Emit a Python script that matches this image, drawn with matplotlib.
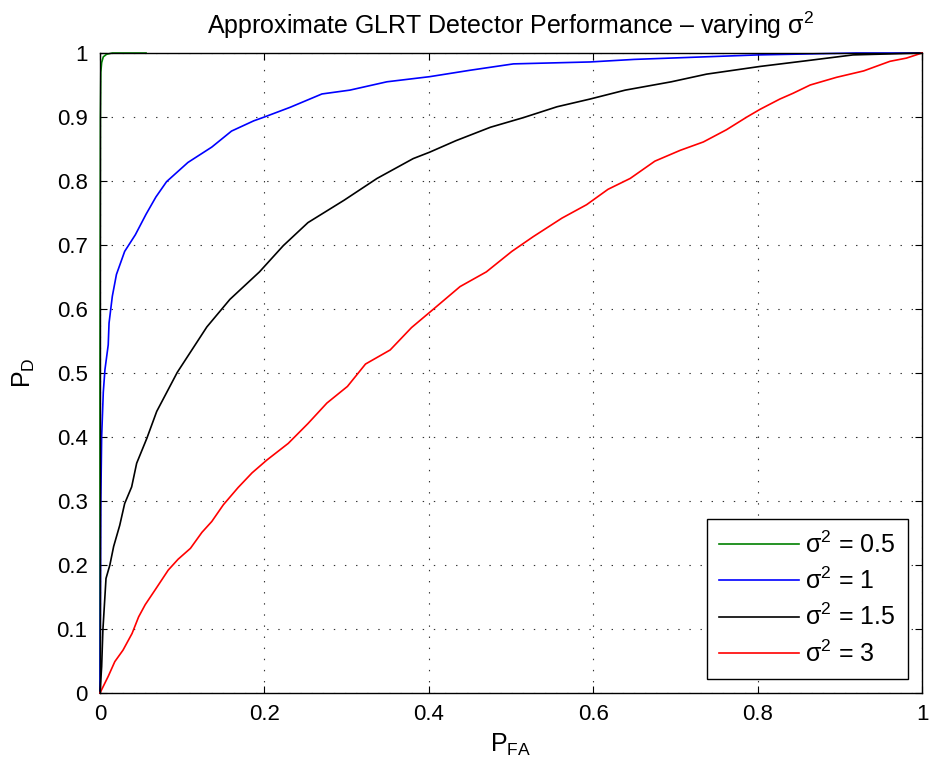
import matplotlib
matplotlib.use('Agg')
import matplotlib.pyplot as plt

plt.rcParams['font.family'] = ['Liberation Sans', 'DejaVu Sans']
plt.rcParams['mathtext.fontset'] = 'custom'
plt.rcParams['mathtext.rm'] = 'Liberation Sans'
plt.rcParams['mathtext.it'] = 'Liberation Sans'
plt.rcParams['mathtext.default'] = 'rm'
plt.rcParams['lines.scale_dashes'] = False

# ROC points (PFA, PD)
green_pfa = [0, 0.0, 0.0005, 0.001, 0.002, 0.004, 0.008, 0.015, 0.056]
green_pd = [0, 0.5, 0.9, 0.97, 0.985, 0.994, 0.998, 1.0, 1.0]

blue_pfa = [0, 0.0005, 0.001, 0.002, 0.004, 0.006, 0.010, 0.011, 0.015, 0.020,
            0.030, 0.043, 0.056, 0.068, 0.081, 0.107, 0.136, 0.160, 0.187, 0.200,
            0.231, 0.270, 0.304, 0.349, 0.401, 0.450, 0.503, 0.596, 0.65, 0.80,
            0.92, 1.0]
blue_pd = [0, 0.15, 0.30, 0.40, 0.47, 0.505, 0.544, 0.578, 0.62, 0.654,
           0.690, 0.716, 0.748, 0.775, 0.799, 0.829, 0.853, 0.878, 0.894, 0.900,
           0.915, 0.936, 0.942, 0.955, 0.963, 0.973, 0.983, 0.986, 0.99, 0.997,
           1.0, 1.0]

black_pfa = [0, 0.002, 0.0035, 0.0073, 0.012, 0.0166, 0.024, 0.030, 0.0385, 0.0446,
             0.057, 0.069, 0.094, 0.130, 0.158, 0.194, 0.223, 0.253, 0.297, 0.337,
             0.381, 0.401, 0.433, 0.475, 0.515, 0.556, 0.596, 0.639, 0.695, 0.738,
             0.803, 0.860, 0.916, 1.0]
black_pd = [0, 0.041, 0.098, 0.179, 0.20, 0.229, 0.262, 0.296, 0.322, 0.359,
            0.398, 0.440, 0.501, 0.572, 0.615, 0.658, 0.699, 0.735, 0.770, 0.804,
            0.835, 0.845, 0.863, 0.884, 0.899, 0.916, 0.928, 0.942, 0.955, 0.967,
            0.979, 0.988, 0.997, 1.0]

red_pfa = [0, 0.010, 0.018, 0.028, 0.039, 0.047, 0.055, 0.067, 0.083, 0.095,
           0.110, 0.124, 0.136, 0.150, 0.168, 0.185, 0.203, 0.229, 0.253, 0.276,
           0.301, 0.323, 0.353, 0.379, 0.404, 0.438, 0.470, 0.501, 0.527, 0.562,
           0.592, 0.618, 0.645, 0.675, 0.706, 0.734, 0.762, 0.787, 0.803, 0.827,
           0.843, 0.864, 0.896, 0.929, 0.961, 0.981, 1.0]
red_pd = [0, 0.026, 0.049, 0.067, 0.093, 0.119, 0.138, 0.161, 0.192, 0.209,
          0.226, 0.251, 0.268, 0.294, 0.321, 0.344, 0.364, 0.390, 0.421, 0.453,
          0.479, 0.514, 0.536, 0.571, 0.598, 0.635, 0.658, 0.690, 0.713, 0.742,
          0.763, 0.787, 0.804, 0.831, 0.848, 0.861, 0.880, 0.900, 0.912, 0.928,
          0.937, 0.950, 0.962, 0.972, 0.987, 0.992, 1.0]

labels = ['σ$^2$ = 0.5', 'σ$^2$ = 1', 'σ$^2$ = 1.5', 'σ$^2$ = 3']
colors = ['#008000', '#0000ff', '#000000', '#ff0000']

xticks = [0, 0.2, 0.4, 0.6, 0.8, 1]
xticklabels = ['0', '0.2', '0.4', '0.6', '0.8', '1']
yticks = [0, 0.1, 0.2, 0.3, 0.4, 0.5, 0.6, 0.7, 0.8, 0.9, 1]
yticklabels = ['0', '0.1', '0.2', '0.3', '0.4', '0.5', '0.6', '0.7', '0.8', '0.9', '1']

fig = plt.figure(figsize=(9.3, 7.76), dpi=100)
ax = fig.add_axes([100 / 930, 83 / 776, 822 / 930, 640 / 776])

curves = [(green_pfa, green_pd), (blue_pfa, blue_pd), (black_pfa, black_pd), (red_pfa, red_pd)]
for (x, y), c, lab in zip(curves, colors, labels):
    ax.plot(x, y, color=c, lw=1.2, label=lab, clip_on=False)

ax.set_xlim(0, 1)
ax.set_ylim(0, 1)
ax.set_xticks(xticks)
ax.set_xticklabels(xticklabels)
ax.set_yticks(yticks)
ax.set_yticklabels(yticklabels)
ax.tick_params(direction='in', length=5, width=0.8, top=True, right=True,
               labelsize=16, colors='black')
ax.tick_params(axis='y', pad=9)
ax.tick_params(axis='x', pad=8)
ax.grid(True, linestyle=(0, (1, 7)), color='0.2', linewidth=0.8)
for s in ax.spines.values():
    s.set_linewidth(1.0)
    s.set_zorder(5)

ax.set_title('Approximate GLRT Detector Performance \u2013 varying σ$^2$', fontsize=18, pad=14)
ax.set_xlabel('P$_{FA}$', fontsize=18, labelpad=5)
ax.set_ylabel('P$_{D}$', fontsize=18, labelpad=14)

leg = ax.legend(loc='lower right', fontsize=18, frameon=True, fancybox=False,
                edgecolor='black', framealpha=1, handlelength=3.2,
                handletextpad=0.25, labelspacing=0.4, borderpad=0.5,
                borderaxespad=0.55)
leg.get_frame().set_linewidth(1.0)

fig.savefig('out.png', dpi=100)
